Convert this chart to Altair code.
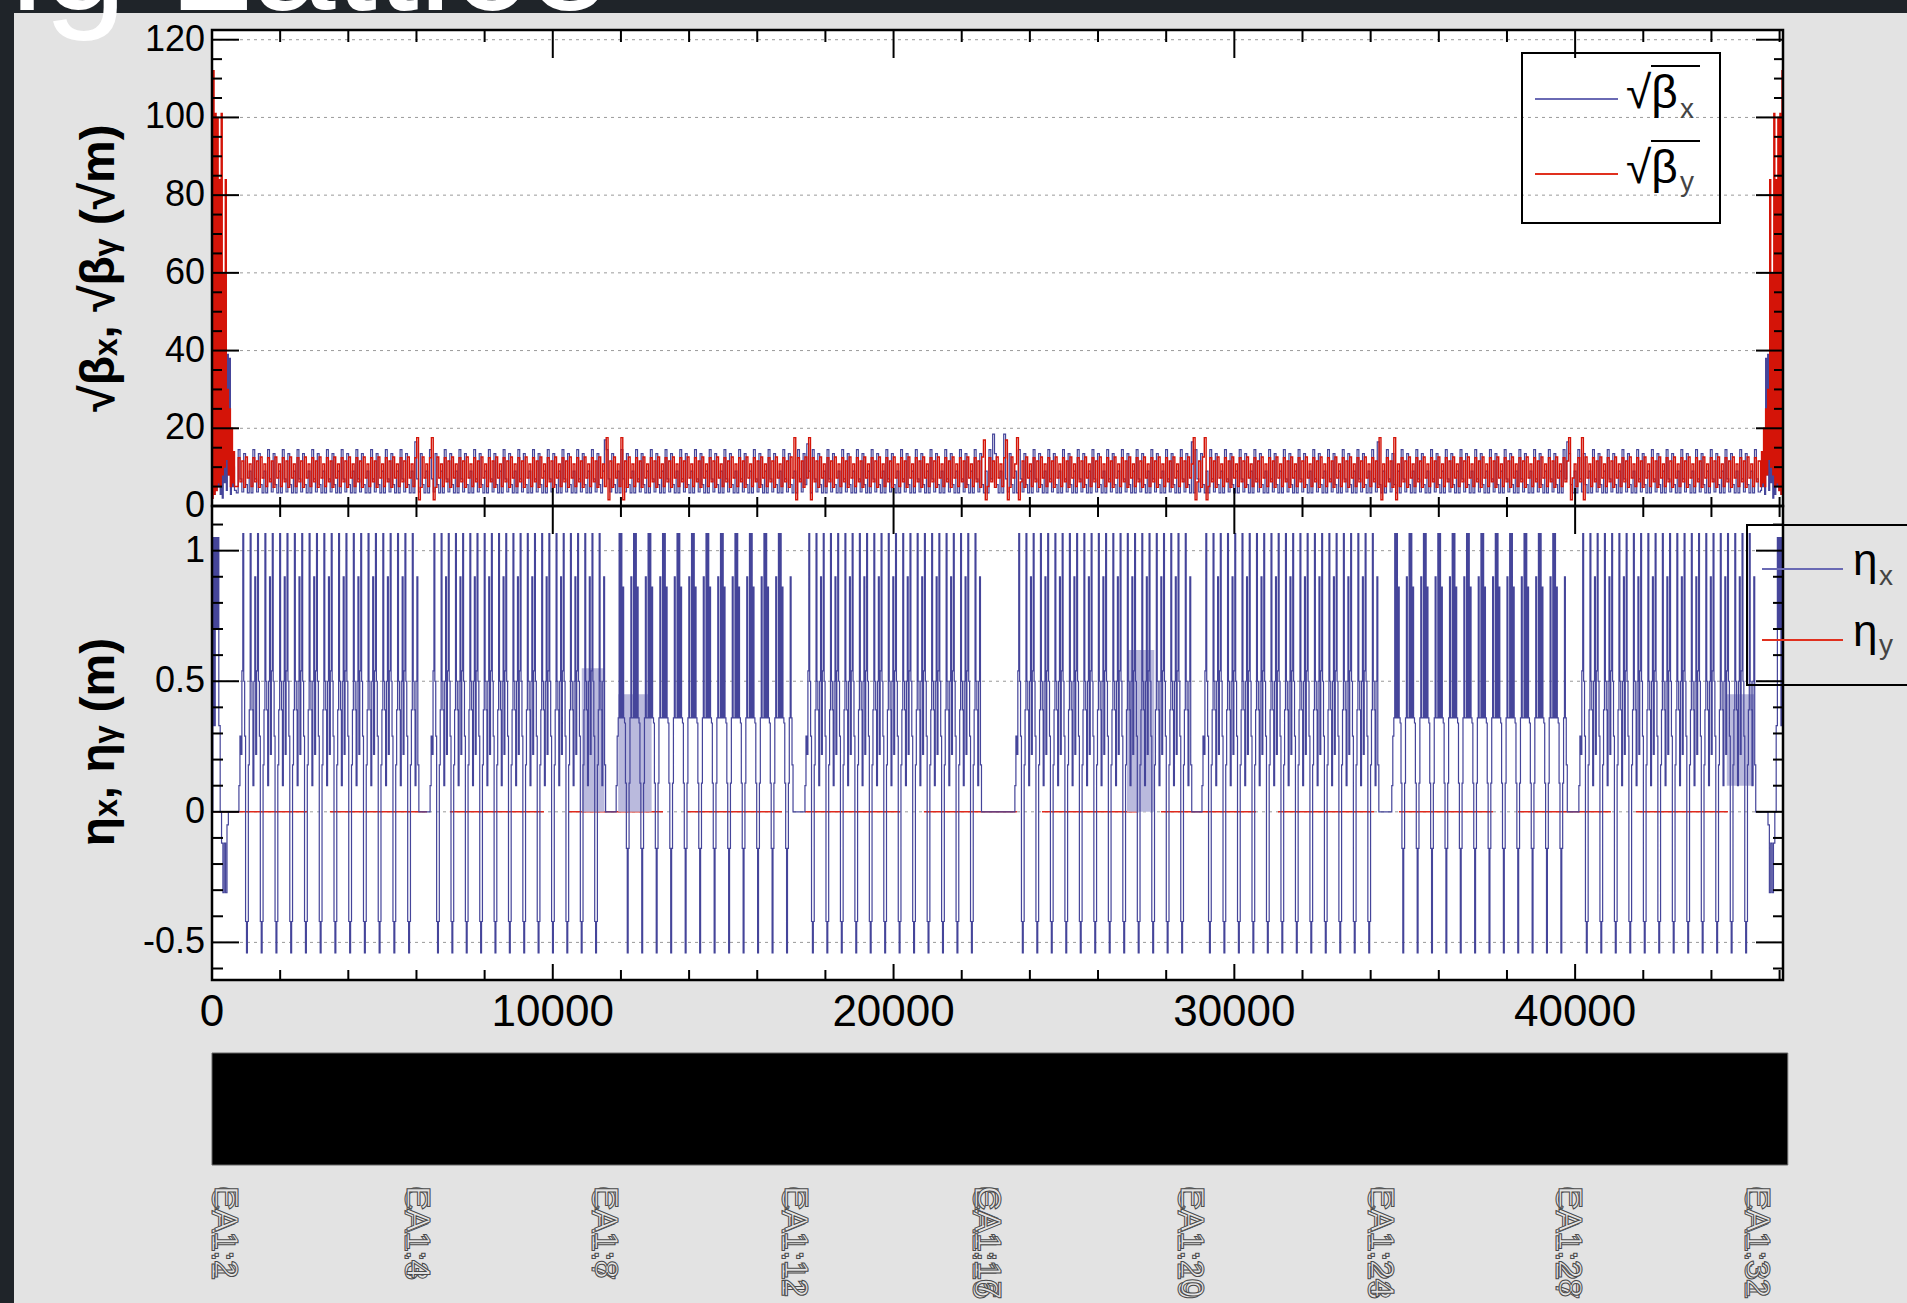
import bisect
import pandas as pd
import altair as alt

# ---------------- data ----------------
S_MAX = 46100

# arcs of the eta_x plot (m)
ARC_START = [850, 6460, 11920, 17460, 23620, 29110, 34680, 40170]
ARC_END = [6040, 11520, 17020, 22550, 28720, 34210, 39740, 45270]
ARC_TYPE = ["A", "A", "B", "A", "A", "A", "B", "A"]
CELL_LEN = 430

# eta_x values inside one arc cell
ETA_CELL_A = [0.22, 0.54, 1.065, 0.50, 0.29, -0.42, -0.54, -0.42, 0.18, 0.39, 1.065, 0.50, 0.39, 0.10, 0.50, 0.90]
ETA_CELL_B = [0.36, 1.065, 0.36, 1.065, 0.36, 0.86, 0.36, 0.34, 0.11, -0.14, -0.54, -0.14, 0.11, 0.36, 0.90, 0.36]
ARC_ENTRY = [0.10, 0.29]
ARC_EXIT = [0.18]

# eta_x in the interaction region at s = 0 (mirrored at the end)
ETA_IR_S = [0, 25, 60, 95, 130, 165, 200, 240, 280, 320, 360, 400, 440, 480]
ETA_IR_V = [0.0, 1.05, 0.33, 1.05, 0.70, 1.05, 0.33, 0.0, -0.12, -0.31, -0.12, -0.31, -0.05, 0.0]

# light shaded (dense) patches in eta_x
SHADE_S0 = [10850, 11920, 26850, 44450]
SHADE_S1 = [11520, 12900, 27650, 45250]
SHADE_LO = [0.0, 0.0, 0.0, 0.10]
SHADE_HI = [0.55, 0.45, 0.62, 0.45]

# eta_y = 0 segments
ETAY_S0 = [60, 3460, 6980, 10475, 13940, 17400, 20890, 24355, 27845, 31280, 34830, 38320, 41785]
ETAY_S1 = [2790, 6310, 9740, 13235, 16725, 20190, 23620, 27140, 30635, 34100, 37590, 41050, 44485]

# sqrt(beta) values
BETA_STEP = 54
BX_CELL = [3.4, 14.5, 7.0, 3.6, 13.5, 5.5, 3.4, 9.0]
BY_CELL = [5.0, 12.4, 6.2, 11.6, 4.8, 12.6, 7.2, 10.8]
BETA_IR_S = [0, 30, 60, 90, 120, 150, 180, 210, 240, 270, 300, 330, 360, 390, 420, 450, 480, 510, 540, 570, 600, 630, 660]
BY_IR = [2, 112, 3, 101, 4, 100, 6, 84, 5, 101, 8, 60, 10, 84, 12, 30, 8, 25, 5, 20, 6, 14, 5]
BX_IR = [2, 12, 3, 20, 4, 18, 5, 10, 3, 8, 2, 14, 6, 20, 4, 39, 8, 38, 3, 14, 5, 10, 4]
SPIKE_S = [6000, 6400, 11530, 11960, 17050, 17490, 22600, 22950, 23250, 23600, 28750, 29100, 34230, 34680, 39760, 40180]
SPIKE_BY = [17.6, 17.6, 17.6, 17.6, 17.6, 17.6, 17.0, 0, 17.0, 17.6, 17.6, 17.6, 17.6, 17.6, 17.6, 17.6]
SPIKE_BX = [16.5, 0, 17.0, 0, 0, 16.0, 0, 18.5, 18.5, 0, 16.5, 0, 16.5, 0, 16.5, 0]

# axes
X_LABELS = [0, 10000, 20000, 30000, 40000]
X_MAJOR = [10000, 20000, 30000, 40000]
X_MINOR = [2000, 4000, 6000, 8000, 12000, 14000, 16000, 18000, 22000, 24000, 26000, 28000,
           32000, 34000, 36000, 38000, 42000, 44000, 46000]
YT_LABELS = [0, 20, 40, 60, 80, 100, 120]
YT_GRID = [20, 40, 60, 80, 100, 120]
YT_MINOR = [5, 10, 15, 25, 30, 35, 45, 50, 55, 65, 70, 75, 85, 90, 95, 105, 110, 115]
YB_LABELS = [-0.5, 0, 0.5, 1]
YB_TEXT = ["-0.5", "0", "0.5", "1"]
YB_MINOR = [-0.6, -0.4, -0.3, -0.2, -0.1, 0.1, 0.2, 0.3, 0.4, 0.6, 0.7, 0.8, 0.9, 1.1]

# lattice bar and element names
LATTICE_S0 = [0]
LATTICE_S1 = [46240]
LAB_S = [300, 380, 5950, 6030, 11450, 11530, 17030, 17110, 22620, 22690, 22760,
         28640, 28720, 34210, 34290, 39740, 39820, 45270, 45350]
LAB_T = ["CA1:1", "EA1:2", "CA1:3", "EA1:4", "CA1:7", "EA1:8", "CA1:11", "EA1:12",
         "CA1:15", "EA1:16", "CA1:17", "CA1:19", "EA1:20", "CA1:23", "EA1:24",
         "CA1:27", "EA1:28", "CA1:31", "EA1:32"]

# ---------------- build tables ----------------
eta_s, eta_v = [], []
for s, v in zip(ETA_IR_S, ETA_IR_V):
    eta_s.append(s); eta_v.append(v)
for a0, a1, t in zip(ARC_START, ARC_END, ARC_TYPE):
    cell = ETA_CELL_A if t == "A" else ETA_CELL_B
    eta_s.append(a0 - 120); eta_v.append(0.0)
    for k, v in enumerate(ARC_ENTRY):
        eta_s.append(a0 - 60 + 30 * k); eta_v.append(v)
    n = max(1, round((a1 - a0) / CELL_LEN))
    L = (a1 - a0) / n
    step = L / len(cell)
    for c in range(n):
        for j, v in enumerate(cell):
            eta_s.append(a0 + c * L + j * step); eta_v.append(v)
    for k, v in enumerate(ARC_EXIT):
        eta_s.append(a1 + 30 * k); eta_v.append(v)
    eta_s.append(a1 + 30 * len(ARC_EXIT)); eta_v.append(0.0)
for s, v in reversed(list(zip(ETA_IR_S, ETA_IR_V))):
    eta_s.append(S_MAX - s); eta_v.append(v)
eta_df = pd.DataFrame({"s": eta_s, "v": eta_v})

beta_s, bx, by = [], [], []
for s, x, y in zip(BETA_IR_S, BX_IR, BY_IR):
    beta_s.append(s); bx.append(x); by.append(y)
s = BETA_IR_S[-1] + BETA_STEP
k = 0
while s < S_MAX - BETA_IR_S[-1] - BETA_STEP * 0.5:
    beta_s.append(s); bx.append(BX_CELL[k % len(BX_CELL)]); by.append(BY_CELL[k % len(BY_CELL)])
    s += BETA_STEP; k += 1
for s_, x, y in reversed(list(zip(BETA_IR_S, BX_IR, BY_IR))):
    beta_s.append(S_MAX - s_); bx.append(x); by.append(y)
for ss, vx, vy in zip(SPIKE_S, SPIKE_BX, SPIKE_BY):
    i = bisect.bisect_left(beta_s, ss)
    if vy:
        by[i] = vy
        by[i + 1] = 1.6
    if vx:
        bx[i - 1] = vx
bx_df = pd.DataFrame({"s": beta_s, "v": bx})
by_df = pd.DataFrame({"s": beta_s, "v": by})

shade_df = pd.DataFrame({"s0": SHADE_S0, "s1": SHADE_S1, "lo": SHADE_LO, "hi": SHADE_HI})
etay_df = pd.DataFrame({"s0": ETAY_S0, "s1": ETAY_S1, "v": [0.0] * len(ETAY_S0)})

# ---------------- scales / helpers ----------------
FONT = "Liberation Sans"
BLUE = "#45459a"
RED = "#d41408"
XS = alt.Scale(domain=[0, S_MAX], range=[212, 1783], nice=False, zero=False)
YT = alt.Scale(domain=[0, 122.5], range=[506, 30], nice=False, zero=False)
YB = alt.Scale(domain=[-0.644, 1.171], range=[980, 506], nice=False, zero=False)
ONE = pd.DataFrame({"k": [0]})


def deco_rect(x0, x1, y0, y1, **kw):
    return alt.Chart(ONE).mark_rect(**kw).encode(
        x=alt.value(x0), x2=alt.value(x1), y=alt.value(y0), y2=alt.value(y1))


def deco_rule(x0, x1, y0, y1, **kw):
    return alt.Chart(ONE).mark_rule(**kw).encode(
        x=alt.value(x0), x2=alt.value(x1), y=alt.value(y0), y2=alt.value(y1))


def deco_text(x, y, t, **kw):
    return alt.Chart(ONE).mark_text(font=FONT, **kw).encode(
        x=alt.value(x), y=alt.value(y), text=alt.value(t))


def xticks(vals, y0, y1):
    return alt.Chart(pd.DataFrame({"s": vals})).mark_rule(color="black", strokeWidth=2).encode(
        x=alt.X("s:Q", scale=XS, axis=None), y=alt.value(y0), y2=alt.value(y1))


def yticks(vals, scale, x0, x1):
    return alt.Chart(pd.DataFrame({"v": vals})).mark_rule(color="black", strokeWidth=2).encode(
        y=alt.Y("v:Q", scale=scale, axis=None), x=alt.value(x0), x2=alt.value(x1))


def grid(vals, scale):
    return alt.Chart(pd.DataFrame({"v": vals})).mark_rule(
        color="#9a9a9a", strokeWidth=1, strokeDash=[3, 4]).encode(
        y=alt.Y("v:Q", scale=scale, axis=None), x=alt.value(212), x2=alt.value(1783))


layers = []
# page decoration
layers.append(deco_rect(0, 14, 0, 1303, color="#1f2429"))
layers.append(deco_rect(0, 1907, 0, 13, color="#1f2429"))
layers.append(deco_text(-40, 10, "ng Lattice", fontSize=150, color="white", align="left", baseline="alphabetic"))

# panel backgrounds
layers.append(deco_rect(212, 1783, 30, 506, color="white"))
layers.append(deco_rect(212, 1783, 506, 980, color="white"))
layers.append(grid(YT_GRID, YT))
layers.append(grid(YB_LABELS, YB))

# top panel lines
layers.append(alt.Chart(bx_df).mark_line(color=BLUE, strokeWidth=1.2, interpolate="step-after").encode(
    x=alt.X("s:Q", scale=XS, axis=None), y=alt.Y("v:Q", scale=YT, axis=None), order="s:Q"))
layers.append(alt.Chart(by_df).mark_line(color=RED, strokeWidth=1.4, interpolate="step-after").encode(
    x=alt.X("s:Q", scale=XS, axis=None), y=alt.Y("v:Q", scale=YT, axis=None), order="s:Q"))

# bottom panel
layers.append(alt.Chart(etay_df).mark_rule(color="#e02a1c", strokeWidth=1.6).encode(
    x=alt.X("s0:Q", scale=XS, axis=None), x2="s1:Q", y=alt.Y("v:Q", scale=YB, axis=None)))
layers.append(alt.Chart(shade_df).mark_rect(color="#babadd").encode(
    x=alt.X("s0:Q", scale=XS, axis=None), x2="s1:Q",
    y=alt.Y("lo:Q", scale=YB, axis=None), y2="hi:Q"))
layers.append(alt.Chart(eta_df).mark_line(color=BLUE, strokeWidth=1.2, interpolate="step-after").encode(
    x=alt.X("s:Q", scale=XS, axis=None), y=alt.Y("v:Q", scale=YB, axis=None), order="s:Q"))

# ticks
layers += [xticks(X_MAJOR, 30, 58), xticks(X_MINOR, 30, 42),
           xticks(X_MAJOR, 506, 488), xticks(X_MINOR, 506, 497),
           xticks(X_MAJOR, 506, 534), xticks(X_MINOR, 506, 517),
           xticks(X_MAJOR, 980, 964), xticks(X_MINOR, 980, 970)]
layers += [yticks(YT_LABELS, YT, 212, 239), yticks(YT_MINOR, YT, 212, 222),
           yticks(YT_LABELS, YT, 1783, 1756), yticks(YT_MINOR, YT, 1783, 1774),
           yticks(YB_LABELS, YB, 212, 239), yticks(YB_MINOR, YB, 212, 223),
           yticks(YB_LABELS, YB, 1783, 1756), yticks(YB_MINOR, YB, 1783, 1773)]

# frames
layers.append(deco_rect(212, 1783, 30, 506, fillOpacity=0, stroke="black", strokeWidth=2.5))
layers.append(deco_rect(212, 1783, 506, 980, fillOpacity=0, stroke="black", strokeWidth=2.5))

# tick labels
layers.append(alt.Chart(pd.DataFrame({"v": YT_LABELS, "t": [str(v) for v in YT_LABELS]})).mark_text(
    font=FONT, fontSize=36, align="right", baseline="middle", color="black").encode(
    y=alt.Y("v:Q", scale=YT, axis=None), x=alt.value(205), text="t:N"))
layers.append(alt.Chart(pd.DataFrame({"v": YB_LABELS, "t": YB_TEXT})).mark_text(
    font=FONT, fontSize=36, align="right", baseline="middle", color="black").encode(
    y=alt.Y("v:Q", scale=YB, axis=None), x=alt.value(205), text="t:N"))
layers.append(alt.Chart(pd.DataFrame({"s": X_LABELS, "t": [str(v) for v in X_LABELS]})).mark_text(
    font=FONT, fontSize=44, align="center", baseline="middle", color="black").encode(
    x=alt.X("s:Q", scale=XS, axis=None), y=alt.value(1013), text="t:N"))

# axis titles
layers.append(deco_text(100, 268, "\u221a\u03b2\u2093, \u221a\u03b2\u1d67 (\u221am)", angle=270,
                        fontSize=48, fontWeight="bold", align="center", baseline="middle", color="black"))
layers.append(deco_text(100, 742, "\u03b7\u2093, \u03b7\u1d67 (m)", angle=270,
                        fontSize=48, fontWeight="bold", align="center", baseline="middle", color="black"))

# legend 1
layers.append(deco_rect(1522, 1720, 53, 223, fillOpacity=0, stroke="black", strokeWidth=2))
layers.append(deco_rule(1535, 1618, 99, 99, color="#6a6ab4", strokeWidth=2))
layers.append(deco_rule(1535, 1618, 174, 174, color="#e0301e", strokeWidth=2))
layers.append(deco_text(1626, 108, "\u221a\u03b2", fontSize=46, align="left", baseline="alphabetic", color="black"))
layers.append(deco_text(1680, 118, "x", fontSize=28, align="left", baseline="alphabetic", color="#444"))
layers.append(deco_rule(1651, 1700, 66, 66, color="black", strokeWidth=2))
layers.append(deco_text(1626, 183, "\u221a\u03b2", fontSize=46, align="left", baseline="alphabetic", color="black"))
layers.append(deco_text(1680, 191, "y", fontSize=28, align="left", baseline="alphabetic", color="#444"))
layers.append(deco_rule(1651, 1700, 141, 141, color="black", strokeWidth=2))

# legend 2
layers.append(deco_rect(1747, 1912, 525, 685, fillOpacity=0, stroke="black", strokeWidth=2))
layers.append(deco_rule(1762, 1843, 569, 569, color="#6a6ab4", strokeWidth=2))
layers.append(deco_rule(1762, 1843, 640, 640, color="#e0301e", strokeWidth=2))
layers.append(deco_text(1853, 575, "\u03b7", fontSize=44, align="left", baseline="alphabetic", color="black"))
layers.append(deco_text(1879, 585, "x", fontSize=28, align="left", baseline="alphabetic", color="#444"))
layers.append(deco_text(1853, 646, "\u03b7", fontSize=44, align="left", baseline="alphabetic", color="black"))
layers.append(deco_text(1879, 654, "y", fontSize=28, align="left", baseline="alphabetic", color="#444"))

# lattice bar + labels
layers.append(alt.Chart(pd.DataFrame({"s0": LATTICE_S0, "s1": LATTICE_S1})).mark_rect(
    color="black", stroke="#666", strokeWidth=1).encode(
    x=alt.X("s0:Q", scale=XS, axis=None), x2="s1:Q", y=alt.value(1053), y2=alt.value(1165)))
layers.append(alt.Chart(pd.DataFrame({"s": LAB_S, "t": LAB_T})).mark_text(
    font=FONT, fontSize=34, angle=90, align="left", baseline="middle",
    color="#e4e4e4", stroke="#4a4a4a", strokeWidth=1).encode(
    x=alt.X("s:Q", scale=XS, axis=None), y=alt.value(1186), text="t:N"))

chart = alt.layer(*layers).resolve_scale(y="independent").properties(
    width=1907, height=1303, autosize=alt.AutoSizeParams(type="none"), padding=0,
    background="#e3e3e3"
).configure_view(stroke=None)

chart.save("out.html", embed_options={"renderer": "svg", "actions": False})
